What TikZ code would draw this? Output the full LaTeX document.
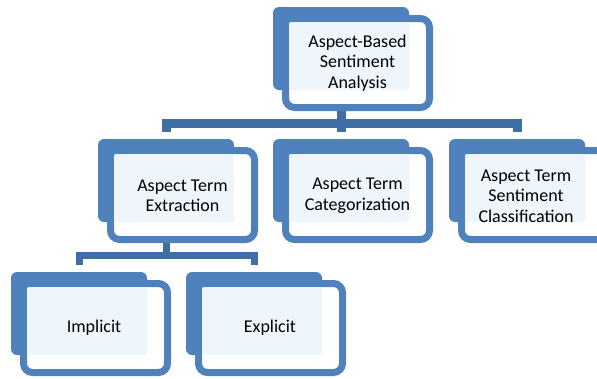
\documentclass[tikz,border=0pt]{standalone}
\usepackage{fontspec}
\setmainfont{Carlito}
\usetikzlibrary{backgrounds}

\definecolor{boxblue}{HTML}{4F81BD}
\definecolor{barblue}{HTML}{3F6EA6}
\definecolor{paleblue}{HTML}{EEF6FB}

\tikzset{
  backbox/.style={rectangle,rounded corners=6pt,fill=boxblue,inner sep=0pt,
    minimum width=136pt,minimum height=83pt},
  frontbox/.style={rectangle,rounded corners=9pt,fill=white,draw=boxblue,line width=7pt,
    inner sep=0pt,minimum width=144pt,minimum height=89pt},
  shadebox/.style={rectangle,rounded corners=2pt,fill=paleblue,inner sep=0pt,
    minimum width=120pt,minimum height=68pt},
  label/.style={align=center,font=\fontsize{18}{20.5}\selectfont},
  link/.style={draw=barblue,line width=9pt},
  sublink/.style={draw=barblue,line width=7pt}
}

\begin{document}
\begin{tikzpicture}[x=1pt,y=-1pt]
\useasboundingbox (0,0) rectangle (597,378);

% top
\node[backbox] (absaB) at (341,48.5) {};
\node[frontbox] (absa) at (357.5,63) {};
\node[shadebox] at (349,56) {};
\node[label] at (357.5,63) {Aspect-Based\\Sentiment\\Analysis};

% second row
\node[backbox] (ateB) at (166,180.5) {};
\node[frontbox] (ate) at (182.5,195) {};
\node[shadebox] at (174,188) {};
\node[label] at (182.5,196) {Aspect Term\\Extraction};

\node[backbox] (atcB) at (341,180.5) {};
\node[frontbox] (atc) at (357.5,195) {};
\node[shadebox] at (349,188) {};
\node[label] at (357.5,196) {Aspect Term\\Categorization};

\node[backbox] (atscB) at (517,180.5) {};
\node[frontbox] (atsc) at (533.5,195) {};
\node[shadebox] at (525,188) {};
\node[label] at (526,196) {Aspect Term\\Sentiment\\Classification};

% third row
\node[backbox] (impB) at (79,313.5) {};
\node[frontbox] (imp) at (95.5,328) {};
\node[shadebox] at (87,321) {};
\node[label] at (94,328) {Implicit};

\node[backbox] (expB) at (254,313.5) {};
\node[frontbox] (exp) at (270.5,328) {};
\node[shadebox] at (262,321) {};
\node[label] at (270,328) {Explicit};

\coordinate (busA) at (341,123.5);
\coordinate (busB) at (166,255);

\begin{scope}[on background layer]
\draw[link] (absaB |- absa.south) -- (busA);
\draw[link] ([yshift=7pt]ateB.north) |- (busA) -| ([yshift=7pt]atscB.north);
\draw[link] (busA) -- ([yshift=7pt]atcB.north);
\draw[sublink] (ateB |- ate.south) -- (busB);
\draw[sublink] ([yshift=7pt]impB.north) |- (busB) -| ([yshift=7pt]expB.north);
\end{scope}
\end{tikzpicture}
\end{document}
